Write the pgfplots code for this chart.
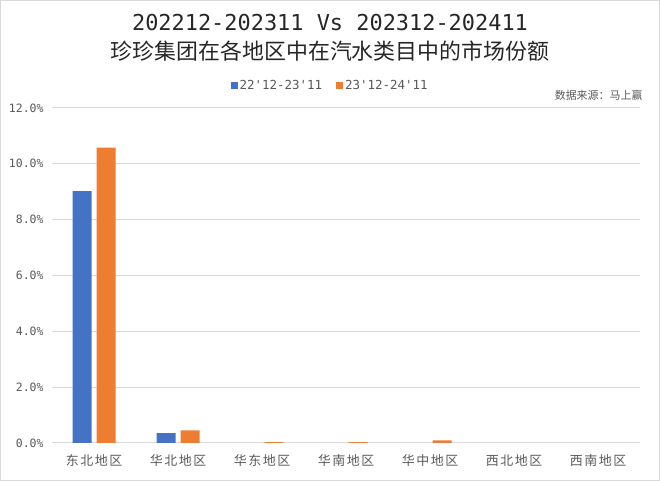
\documentclass[border=0pt]{standalone}
\usepackage{pgfplots}
\pgfplotsset{compat=1.18}
\usepackage{fontspec}
\setmainfont{Noto Sans CJK SC}
\newfontfamily\mono{DejaVu Sans Mono}
\newfontfamily\spaced[LetterSpace=12]{Noto Sans CJK SC}
\definecolor{cblue}{HTML}{4472C4}
\definecolor{corange}{HTML}{ED7D31}
\definecolor{cgrid}{HTML}{D9D9D9}
\definecolor{ctext}{HTML}{595959}
\begin{document}
\begin{tikzpicture}[x=1bp,y=1bp]
\draw[use as bounding box,draw=cgrid,line width=1bp] (0.5,0.5) rectangle (659.5,480.5);
\node[font=\mono\fontsize{22}{26}\selectfont, text=black!85] at (330,458) {202212-202311 Vs 202312-202411};
\node[font=\fontsize{22}{26}\selectfont, text=black!85] at (330,430) {珍珍集团在各地区中在汽水类目中的市场份额};
\node[font=\fontsize{11}{13}\selectfont, text=ctext, anchor=east] at (646,386) {数据来源：马上赢};
\begin{axis}[
  at={(52bp,38bp)}, anchor=south west,
  scale only axis, width=588bp, height=335bp,
  ymin=0, ymax=12, ytick={0,2,...,12},
  xmin=-0.5, xmax=6.5,
  xtick={0,1,2,3,4,5,6},
  xticklabels={东北地区,华北地区,华东地区,华南地区,华中地区,西北地区,西南地区},
  yticklabel={\pgfmathprintnumber[fixed,fixed zerofill,precision=1]{\tick}\%},
  /pgf/number format/assume math mode=true,
  yticklabel style={font=\mono\fontsize{11.5}{14}\selectfont, text=ctext, xshift=-5bp},
  xticklabel style={font=\spaced\fontsize{13}{15}\selectfont, text=ctext, yshift=-8bp},
  ymajorgrids, grid style={cgrid, line width=1bp},
  axis line style={draw=none},
  axis x line*=bottom, axis y line*=left,
  x axis line style={draw=cgrid, line width=1bp},
  major tick length=0pt,
  ybar=5bp, bar width=19bp,
  legend style={at={(axis description cs:0.473,1.066)}, anchor=center, draw=none, legend columns=2, font=\mono\fontsize{12.5}{14}\selectfont, text=ctext, /tikz/every even column/.append style={column sep=12bp}},
  legend image code/.code={\fill[#1] (0bp,-3.5bp) rectangle (7bp,3.5bp);},
  clip=false,
]
\addplot[fill=cblue, draw=none] coordinates {(0,9.02) (1,0.35)};
\addplot[fill=corange, draw=none] coordinates {(0,10.58) (1,0.45) (2,0.03) (3,0.03) (4,0.09)};
\legend{22\textquotesingle 12-23\textquotesingle 11, 23\textquotesingle 12-24\textquotesingle 11}
\end{axis}
\end{tikzpicture}
\end{document}
